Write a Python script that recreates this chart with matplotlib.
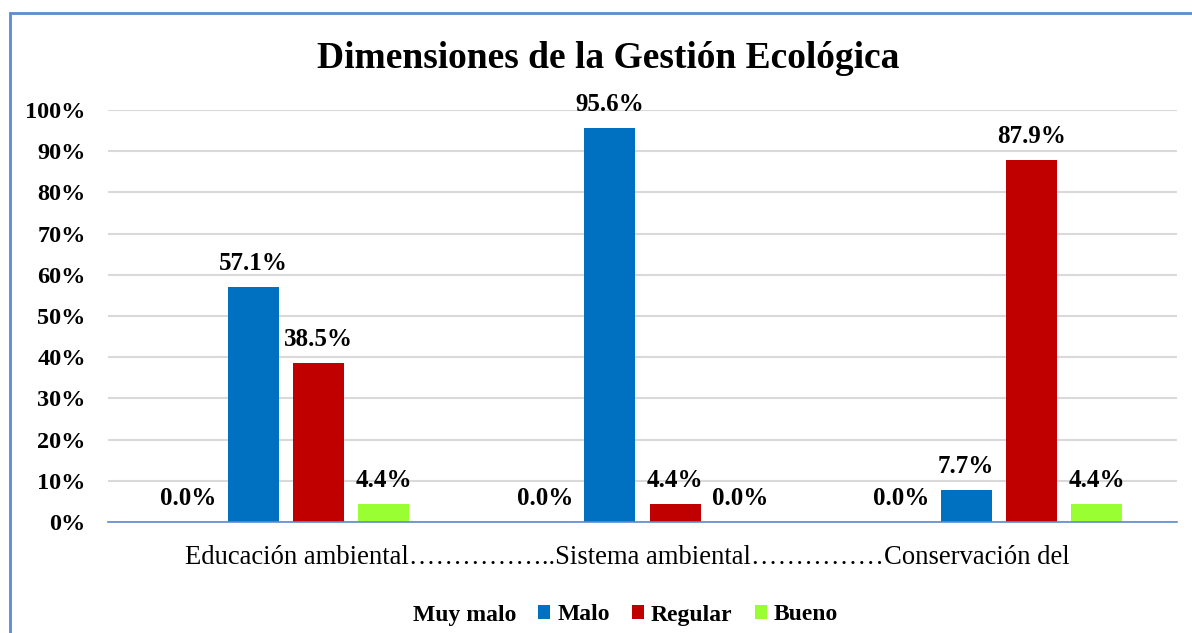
import numpy as np
import matplotlib
matplotlib.use('Agg')
import matplotlib.pyplot as plt
from matplotlib.patches import Rectangle, Patch

plt.rcParams['font.family'] = ['Liberation Serif', 'DejaVu Serif']

# data
categories = ['Educación ambiental', 'Sistema ambiental', 'Conservación del']
series = ['Muy malo', 'Malo', 'Regular', 'Bueno']
values = {
    'Muy malo': [0.0, 0.0, 0.0],
    'Malo': [57.1, 95.6, 7.7],
    'Regular': [38.5, 4.4, 87.9],
    'Bueno': [4.4, 0.0, 4.4],
}
colors = {'Muy malo': '#FFFFFF', 'Malo': '#0070C0', 'Regular': '#C00000', 'Bueno': '#99FF33'}

fig = plt.figure(figsize=(11.92, 6.33), dpi=100)
ax = fig.add_axes([108/1192, 1-522/633, (1177-108)/1192, 412/633])

x = np.arange(len(categories))
width = 0.143
offsets = [-0.274, -0.0913, 0.0913, 0.274]
for s, off in zip(series, offsets):
    vals = np.array(values[s]) / 100
    ax.bar(x + off, vals, width, color=colors[s], zorder=3)
    for xi, v in zip(x + off, vals):
        ax.annotate('%.1f%%' % (v*100), (xi, v), xytext=(0, 17), textcoords='offset points',
                    ha='center', va='center', fontsize=18, fontweight='bold',
                    annotation_clip=False, zorder=4)

ax.set_xlim(-0.5, 2.5)
ax.set_ylim(0, 1.0)
ax.set_yticks(np.arange(0, 1.01, 0.1))
ax.set_yticklabels(['%d%%' % round(t*100) for t in np.arange(0, 1.01, 0.1)],
                   fontsize=17.5, fontweight='bold')
ax.set_xticks([])
ax.tick_params(axis='y', length=0, pad=16)
ax.grid(axis='y', color='#D9D9D9', linewidth=1.5, zorder=0)
for sp in ['top', 'right', 'left']:
    ax.spines[sp].set_visible(False)
ax.spines['bottom'].set_color('#5B8BD0')
ax.spines['bottom'].set_linewidth(1.2)
ax.spines['bottom'].set_zorder(5)

# category text as one line
xlabel = categories[0] + '……………..' + categories[1] + '……………' + categories[2]
fig.text(627/1192, 1-558/633, xlabel, ha='center', va='center', fontsize=19.2)

fig.text(608/1192, 1-59/633, 'Dimensiones de la Gestión Ecológica', ha='center', va='center',
         fontsize=27, fontweight='bold')

handles = [Patch(facecolor=colors[s], edgecolor='none') for s in series]
fig.legend(handles, series, loc='center', bbox_to_anchor=(616/1192, 1-615/633), ncol=4,
           frameon=False, prop={'size': 17, 'weight': 'bold'},
           handlelength=0.5, handleheight=0.5, handletextpad=0.3, columnspacing=0.95)

# outer border
fig.patches.append(Rectangle((10/1192, -0.1), 1.2, 1-13/633+0.1, transform=fig.transFigure,
                             fill=False, edgecolor='#5B8BD0', linewidth=2))

fig.savefig('out.png', dpi=100)
